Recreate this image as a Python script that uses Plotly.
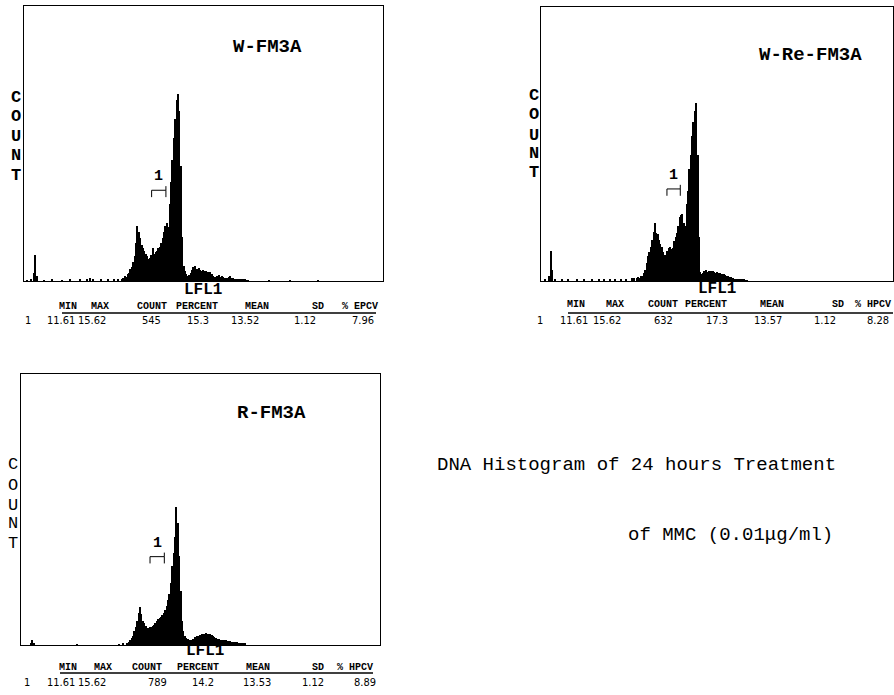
import plotly.graph_objects as go

W, H = 894, 695

# ---------------- data (counts as % of full scale, per channel) ----------------
# W-FM3A
w_start = 70
w_counts = [0.6, 1.0, 1.8, 1.4, 2.4, 3.0, 4.2,
            5.0, 7.0, 9.0, 14.0, 20.0, 18.0, 15.5, 13.0, 12.0, 11.0,
            10.0, 9.0, 8.0, 8.5, 9.5, 12.0, 10.0, 10.5, 11.0, 12.0,
            12.5, 14.0, 15.5, 18.0, 20.0, 21.0, 19.5, 28.0, 36.0, 44.0,
            52.0, 59.0, 66.0, 68.0, 62.0, 42.0, 16.0, 5.5, 3.5, 2.5,
            2.0, 2.2, 3.0, 4.0, 5.0, 5.5, 4.5, 4.2, 4.6, 4.0,
            3.6, 4.0, 3.8, 3.5, 3.4, 3.0, 3.2, 2.5, 2.0, 1.6,
            1.5, 1.8, 2.2, 1.4, 1.8, 1.6, 1.2, 1.0, 1.2, 1.5,
            1.8, 1.2, 1.0, 0.8, 0.9, 0.7, 0.6, 0.6, 0.5, 0.5,
            0.4, 0.4, 0.3, 0.3]
w_noise_ch = [2, 5, 7, 8, 9, 14, 20, 27, 33, 40, 45, 47, 49, 55, 60, 64, 67, 175, 190, 210]
w_noise = [0.3, 0.4, 3.0, 9.5, 2.0, 0.3, 0.4, 0.3, 0.5, 0.4, 0.8, 1.0, 0.7, 0.4, 0.5, 0.6, 0.5, 0.3, 0.3, 0.2]

# W-Re-FM3A
wr_start = 70
wr_counts = [1.2, 1.5, 1.0, 1.8, 2.0, 2.8, 4.0, 6.5, 9.0, 10.5,
             12.5, 15.0, 18.0, 21.0, 17.5, 17.0, 15.0, 13.5, 12.5, 10.5,
             9.5, 9.0, 11.0, 12.0, 12.5, 11.5, 12.0, 14.5, 16.0, 17.5,
             20.0, 23.5, 24.0, 24.5, 21.0, 20.0, 28.0, 33.0, 41.0, 46.0,
             53.0, 58.0, 62.0, 65.0, 46.0, 16.0, 3.4, 2.6, 2.8, 3.6,
             4.0, 3.4, 3.8, 3.2, 3.5, 3.6, 3.3, 3.0, 3.2, 3.0,
             2.9, 2.6, 2.4, 2.4, 2.2, 2.0, 1.8, 1.6, 1.4, 1.2,
             1.0, 0.9, 0.8, 0.7, 0.6, 0.5, 0.5, 0.4, 0.4, 0.3, 0.3]
wr_noise_ch = [3, 6, 7, 8, 10, 15, 20, 26, 31, 37, 42, 46, 50, 54, 58, 62, 66, 68]
wr_noise = [0.5, 2.0, 11.0, 4.0, 0.8, 0.6, 0.7, 0.5, 0.8, 0.6, 0.7, 0.5, 0.8, 0.6, 0.7, 0.9, 1.0, 1.2]

# R-FM3A
r_start = 76
r_counts = [0.5, 1.0, 1.8, 2.6, 3.5, 5.0, 6.8, 9.0, 11.7, 14.0,
            11.5, 9.0, 8.0, 7.0, 6.0, 6.2, 6.5, 6.8, 7.0, 7.4,
            8.0, 9.0, 9.5, 10.0, 10.5, 11.0, 11.7, 13.0, 14.5, 16.5,
            19.0, 23.0, 29.0, 34.0, 40.0, 51.0, 45.0, 33.0, 20.0, 9.0,
            5.0, 3.2, 2.6, 2.2, 1.9, 1.8, 2.0, 2.4, 2.8, 3.0,
            3.2, 3.5, 3.7, 3.9, 4.1, 4.2, 4.3, 4.2, 4.1, 4.0,
            3.6, 3.2, 3.0, 2.7, 2.4, 2.1, 1.9, 1.8, 1.8, 1.8,
            1.8, 1.6, 1.5, 1.3, 1.2, 1.2, 1.1, 1.0, 1.0, 0.9,
            0.9, 0.8, 0.7, 0.6, 0.6]
r_noise_ch = [7, 8, 9, 40, 70, 73]
r_noise = [0.8, 1.8, 0.6, 0.3, 0.3, 0.4]

# gate "1" (channel range and marker level)
gate_lo = [91.0, 91.6, 92.0]
gate_hi = [101.2, 101.3, 102.2]
gate_level = [33.0, 33.6, 32.6]

titles = ["W-FM3A", "W-Re-FM3A", "R-FM3A"]
stat_headers = [["MIN", "MAX", "COUNT", "PERCENT", "MEAN", "SD", "% EPCV"],
                ["MIN", "MAX", "COUNT", "PERCENT", "MEAN", "SD", "% HPCV"],
                ["MIN", "MAX", "COUNT", "PERCENT", "MEAN", "SD", "% HPCV"]]
stat_values = [["1", "11.61", "15.62", "545", "15.3", "13.52", "1.12", "7.96"],
               ["1", "11.61", "15.62", "632", "17.3", "13.57", "1.12", "8.28"],
               ["1", "11.61", "15.62", "789", "14.2", "13.53", "1.12", "8.89"]]
caption1 = "DNA Histogram of 24 hours Treatment"
caption2 = "of MMC (0.01μg/ml)"
axis_word = "COUNT"
axis_x_label = "LFL1"

# ---------------- layout geometry (reference pixels) ----------------
panels = [  # x0, x1, y0(top), y1(bottom)
    (24, 383, 6, 281),
    (541, 893, 7, 281),
    (21, 380, 374, 645),
]
series = [(w_start, w_counts, w_noise_ch, w_noise),
          (wr_start, wr_counts, wr_noise_ch, wr_noise),
          (r_start, r_counts, r_noise_ch, r_noise)]

def px(x):
    return x / W

def py(y):
    return 1 - y / H

MONO = "Liberation Mono, Courier New, monospace"
NARROW = "Liberation Sans Narrow, DejaVu Sans Condensed, Liberation Sans"

fig = go.Figure()
layout = dict(width=W, height=H, margin=dict(l=0, r=0, t=0, b=0),
              paper_bgcolor="white", plot_bgcolor="white",
              showlegend=False, barmode="overlay", bargap=0)

ann = []
for i, ((x0, x1, y0, y1), (start, counts, nch, nv)) in enumerate(zip(panels, series)):
    sfx = "" if i == 0 else str(i + 1)
    xa, ya = "x" + sfx, "y" + sfx
    layout["xaxis" + sfx] = dict(domain=[px(x0), px(x1)], range=[0, 256], anchor=ya,
                                 showline=True, mirror=True, linecolor="black", linewidth=1,
                                 showticklabels=False, ticks="", showgrid=False, zeroline=False)
    layout["yaxis" + sfx] = dict(domain=[py(y1), py(y0)], range=[0, 100], anchor=xa,
                                 showline=True, mirror=True, linecolor="black", linewidth=1,
                                 showticklabels=False, ticks="", showgrid=False, zeroline=False)
    chans = list(range(start, start + len(counts)))
    fig.add_trace(go.Bar(x=chans, y=counts, width=1, marker=dict(color="black", line_width=0),
                         xaxis=xa, yaxis=ya, hoverinfo="skip"))
    fig.add_trace(go.Bar(x=nch, y=nv, width=0.8, marker=dict(color="black", line_width=0),
                         xaxis=xa, yaxis=ya, hoverinfo="skip"))
    lo, hi, lv = gate_lo[i], gate_hi[i], gate_level[i]
    fig.add_trace(go.Scatter(x=[lo, lo, hi, hi, None, hi, hi],
                             y=[lv - 2.5, lv, lv, lv - 2.5, None, lv, lv + 1.5],
                             mode="lines", line=dict(color="black", width=1),
                             xaxis=xa, yaxis=ya, hoverinfo="skip"))
    ann.append(dict(text="<b>1</b>", x=(lo + hi) / 2, y=lv + 1.0, xref=xa, yref=ya,
                    showarrow=False, xanchor="center", yanchor="bottom",
                    font=dict(family=MONO, size=15, color="black")))

def text(t, x, y, size, bold=False, family=MONO, xanchor="center"):
    ann.append(dict(text=("<b>%s</b>" % t) if bold else t, x=px(x), y=py(y),
                    xref="paper", yref="paper", showarrow=False, xanchor=xanchor,
                    yanchor="middle", font=dict(family=family, size=size, color="black")))

title_pos = [(267, 47), (810, 55), (271, 413)]
for t, (x, y) in zip(titles, title_pos):
    text(t, x, y, 19, bold=True)

# vertical "COUNT" letters, one per line
count_x = [16, 534, 13]
count_ys = [[97, 116.5, 136, 155.5, 175],
            [95, 115, 135, 153.5, 173],
            [465, 485, 505, 523.5, 543]]
for k in range(3):
    for letter, y in zip(axis_word, count_ys[k]):
        text(letter, count_x[k], y, 17, bold=(k < 2))

lfl_pos = [(203, 290), (717, 289), (205, 651)]
for x, y in lfl_pos:
    text(axis_x_label, x, y, 16, bold=True)

header_x = [[68, 100, 152, 197, 257, 318, 360],
            [576, 615, 663, 706, 772, 838, 873],
            [68, 103, 147, 198, 258, 318, 355]]
header_y = [306, 305, 667]
value_x = [[28, 61, 92, 151, 198, 245, 305, 363],
           [540, 574, 607, 663, 717, 768, 825, 878],
           [27, 61, 92, 157, 203, 257, 313, 365]]
value_y = [321, 321, 682]
line_span = [(62, 376), (568, 893), (60, 373)]
line_y = [313, 313, 673]

for i in range(3):
    for t, x in zip(stat_headers[i], header_x[i]):
        text(t, x, header_y[i], 10, bold=True)
    for t, x in zip(stat_values[i], value_x[i]):
        text(t, x, value_y[i], 11, family=NARROW)

text(caption1, 636, 465, 19)
text(caption2, 730, 535, 19)

shapes = []
for (a, b), y in zip(line_span, line_y):
    shapes.append(dict(type="line", xref="paper", yref="paper", x0=px(a), x1=px(b),
                       y0=py(y), y1=py(y), line=dict(color="black", width=1.5)))

layout["annotations"] = ann
layout["shapes"] = shapes
fig.update_layout(**layout)
# remove the browser's default 8px page margin so the figure fills the window exactly
fig.write_html("out.html", config={"displayModeBar": False},
               post_script="document.body.style.margin='0';document.body.style.overflow='hidden';")
